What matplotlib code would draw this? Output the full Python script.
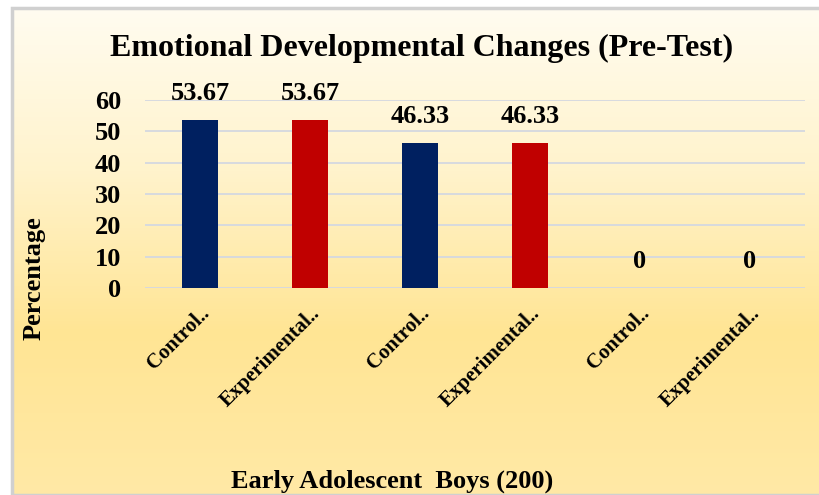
import numpy as np
import matplotlib
matplotlib.use("Agg")
import matplotlib.pyplot as plt
from matplotlib.colors import LinearSegmentedColormap
from matplotlib.patches import Rectangle

categories = ["Control..", "Experimental..", "Control..", "Experimental..", "Control..", "Experimental.."]
values = [53.67, 53.67, 46.33, 46.33, 0, 0]
colors = ["#002060", "#C00000", "#002060", "#C00000", "#002060", "#C00000"]
yticks = [0, 10, 20, 30, 40, 50, 60]

plt.rcParams['font.family'] = ['Liberation Serif', 'DejaVu Serif']
plt.rcParams['font.weight'] = 'bold'

W, H = 820, 495
fig = plt.figure(figsize=(W / 100, H / 100), dpi=100)
fig.patch.set_facecolor("white")

# chart area background with vertical gradient
bg = fig.add_axes([12 / W, 0, 1 - 12 / W, 1 - 8 / H])
bg.set_axis_off()
grad = LinearSegmentedColormap.from_list("g", ["#FFFCF0", "#FFF3CC", "#FFE594", "#FFE9A6"])
bg.imshow(np.linspace(0, 1, 256).reshape(-1, 1), aspect="auto", cmap=grad,
          extent=[0, 1, 0, 1], origin="upper")
bg.add_patch(Rectangle((0, 0), 1.01, 1, transform=bg.transAxes, fill=False,
                       edgecolor="#D0D0D0", linewidth=2.5, clip_on=False))

ax = fig.add_axes([145 / W, (H - 288) / H, 660 / W, 188 / H])
ax.patch.set_alpha(0)
x = np.arange(len(categories))
bars = ax.bar(x, values, width=0.32, color=colors, zorder=3)
ax.set_xlim(-0.5, len(categories) - 0.5)
ax.set_ylim(0, 60)
ax.set_yticks(yticks)
ax.set_yticklabels([str(t) for t in yticks], fontsize=19, fontweight="bold")
ax.set_xticks(x)
ax.set_xticklabels(categories, rotation=45, ha="right", rotation_mode="anchor",
                   fontsize=15, fontweight="bold")
ax.tick_params(axis="both", length=0)
ax.tick_params(axis="y", pad=17)
ax.tick_params(axis="x", pad=11)
ax.yaxis.grid(True, color="#D4D8E0", linewidth=1.3, zorder=0)
for s in ax.spines.values():
    s.set_visible(False)

for xi, v in zip(x, values):
    label = "0" if v == 0 else f"{v:.2f}"
    ax.annotate(label, (xi, v), xytext=(0, 11), textcoords="offset points",
                ha="center", va="bottom", fontsize=19, fontweight="bold")

fig.text(422 / W, 1 - 48 / H, "Emotional Developmental Changes (Pre-Test)",
         ha="center", va="center", fontsize=23, fontweight="bold")
fig.text(34 / W, 1 - 278 / H, "Percentage", rotation=90, ha="center", va="center",
         fontsize=19, fontweight="bold")
fig.text(392 / W, 1 - 481 / H, "Early Adolescent  Boys (200)", ha="center", va="center",
         fontsize=19, fontweight="bold")

fig.savefig("out.png", dpi=100)
